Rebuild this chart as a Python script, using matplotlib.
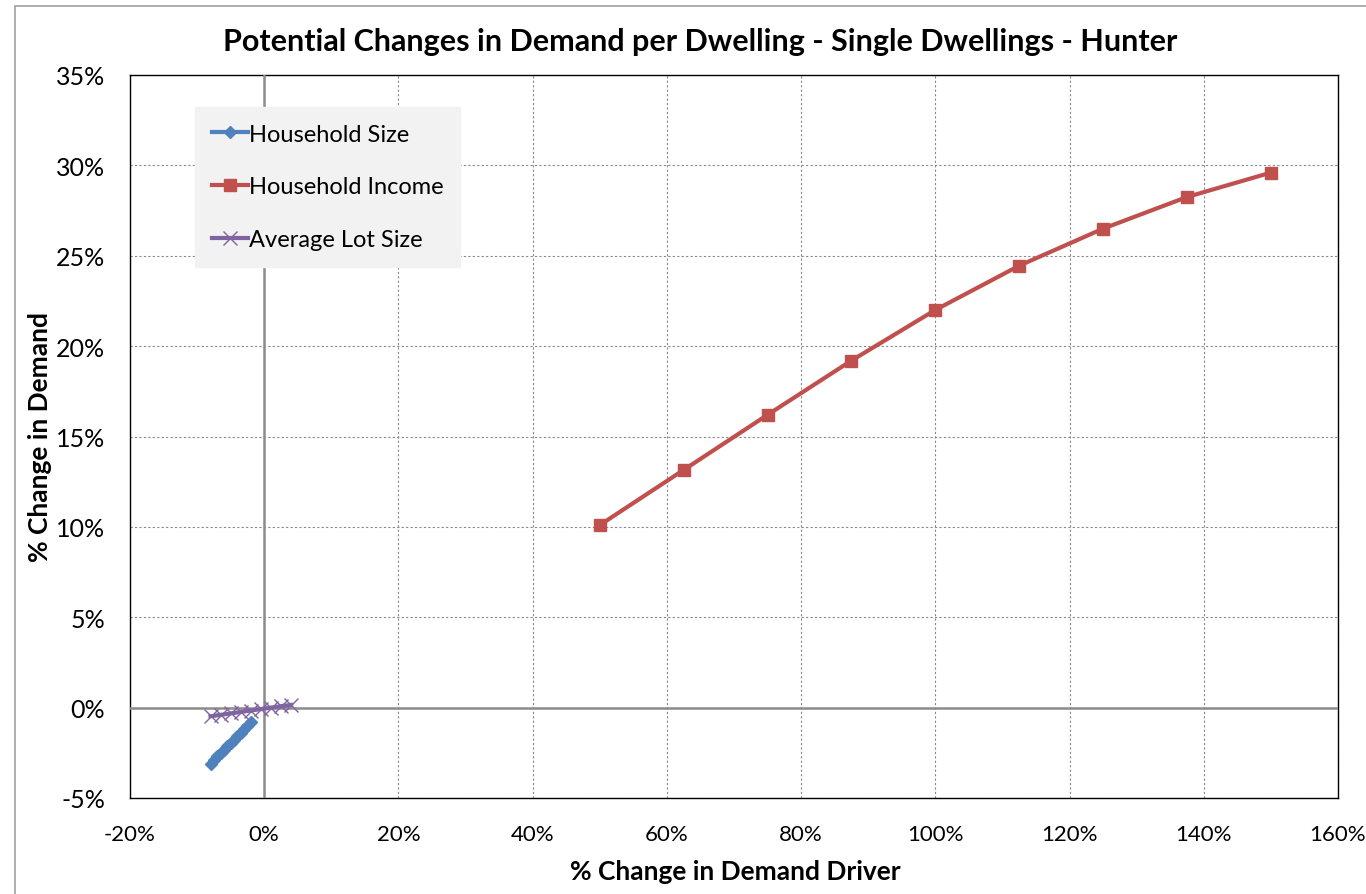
import matplotlib.pyplot as plt
from matplotlib.patches import Rectangle
from matplotlib.ticker import FuncFormatter, MultipleLocator

# datos: % cambio del factor de demanda vs % cambio en demanda
hh_size_x = [-8.0, -7.5, -7.0, -6.5, -6.0, -5.5, -5.0, -4.5, -4.0, -3.5, -3.0, -2.5, -2.0]
hh_size_y = [-3.10, -2.90, -2.70, -2.52, -2.33, -2.15, -1.95, -1.77, -1.58, -1.38, -1.19, -1.00, -0.80]

hh_income_x = [50.0, 62.5, 75.0, 87.5, 100.0, 112.5, 125.0, 137.5, 150.0]
hh_income_y = [10.1, 13.15, 16.2, 19.2, 22.0, 24.45, 26.5, 28.25, 29.6]

lot_size_x = [-8.0, -6.5, -5.0, -3.5, -2.0, -0.5, 1.0, 2.5, 4.0]
lot_size_y = [-0.48, -0.40, -0.32, -0.24, -0.16, -0.08, 0.00, 0.08, 0.15]

azul = "#4F81BD"
rojo = "#C0504D"
morado = "#8064A2"

plt.rcParams["font.family"] = ["Lato", "DejaVu Sans"]

W, H = 1366, 895
fig = plt.figure(figsize=(W / 100, H / 100), dpi=100)
ax = fig.add_axes([130 / W, 96 / H, 1208 / W, 723 / H])

# borde exterior del area del grafico
fig.patches.append(Rectangle((15 / W, -0.05), 1.2, 888 / H + 0.05,
                             transform=fig.transFigure, fill=False,
                             edgecolor="#a0a0a0", linewidth=1.2))

ax.plot(hh_size_x, hh_size_y, color=azul, lw=3, marker="D", ms=6,
        label="Household Size", zorder=4)
ax.plot(hh_income_x, hh_income_y, color=rojo, lw=3, marker="s", ms=9,
        label="Household Income", zorder=4)
ax.plot(lot_size_x, lot_size_y, color=morado, lw=3, marker="x", ms=10,
        mew=1.0, label="Average Lot Size", zorder=5)

ax.set_xlim(-20, 160)
ax.set_ylim(-5, 35)
ax.xaxis.set_major_locator(MultipleLocator(20))
ax.yaxis.set_major_locator(MultipleLocator(5))
pct = FuncFormatter(lambda v, p: f"{v:.0f}%")
ax.xaxis.set_major_formatter(pct)
ax.yaxis.set_major_formatter(pct)

ax.grid(True, color="#888888", linestyle=(0, (2, 2)), linewidth=0.8)
ax.axhline(0, color="#8c8c8c", lw=1.8, zorder=3)
ax.axvline(0, color="#8c8c8c", lw=1.8, zorder=3)

for s in ax.spines.values():
    s.set_color("black")
    s.set_linewidth(1.0)

ax.tick_params(length=0)
ax.tick_params(axis="y", pad=18, labelsize=18)
ax.tick_params(axis="x", pad=19, labelsize=16)

fig.text(700 / W, 1 - 42 / H,
         "Potential Changes in Demand per Dwelling - Single Dwellings - Hunter",
         ha="center", va="center", fontsize=22, fontweight="bold")
fig.text(735 / W, 1 - 872 / H, "% Change in Demand Driver",
         ha="center", va="center", fontsize=19, fontweight="bold")
fig.text(40 / W, 1 - 437 / H, "% Change in Demand", rotation=90,
         ha="center", va="center", fontsize=19, fontweight="bold")

leg = ax.legend(loc="upper left", bbox_to_anchor=(65 / 1208, 1 - 32 / 723),
                frameon=True, fancybox=False, fontsize=17, handlelength=1.55,
                handletextpad=0.05, labelspacing=1.35, borderpad=0.7,
                borderaxespad=0)
leg.get_frame().set_facecolor("#f2f2f2")
leg.get_frame().set_edgecolor("#f2f2f2")
leg.get_frame().set_alpha(1)

fig.savefig("out.png", dpi=100, facecolor="white")
